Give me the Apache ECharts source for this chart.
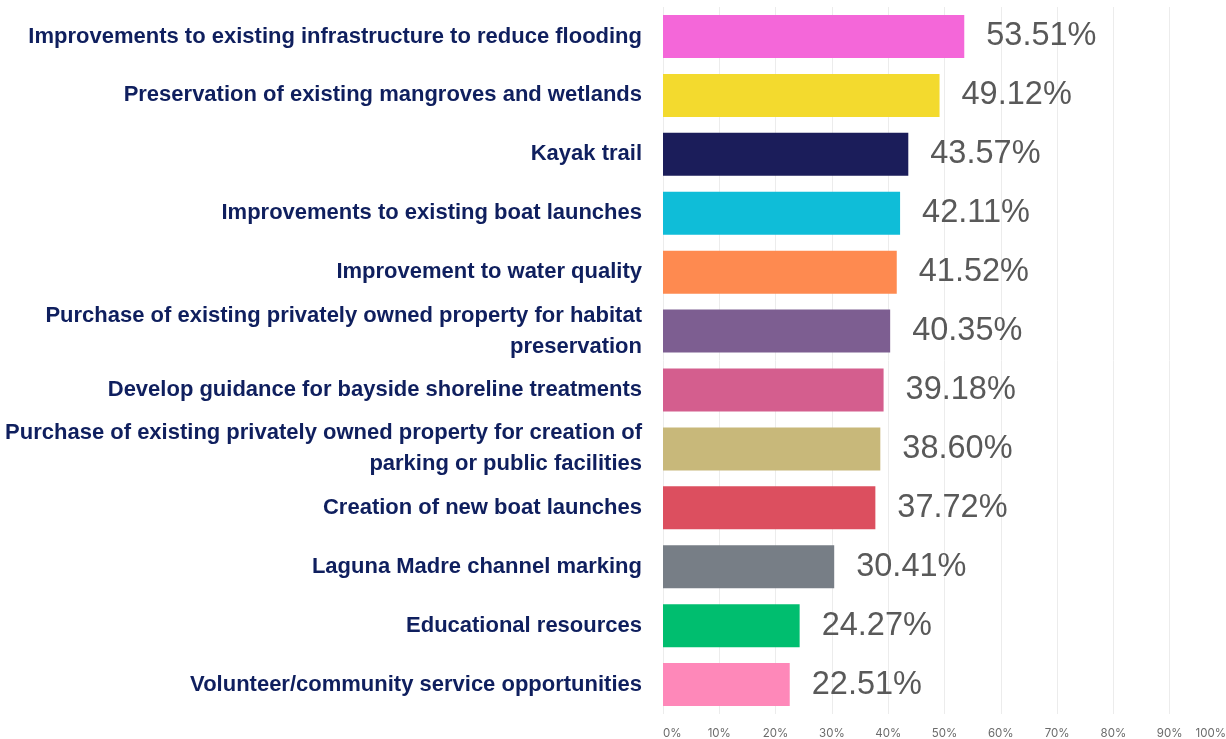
<!DOCTYPE html>
<html>
<head>
<meta charset="utf-8">
<script src="https://cdn.jsdelivr.net/npm/echarts@6/dist/echarts.min.js"></script>
<style>
  html, body { margin: 0; padding: 0; background: #fff; }
  #chart { width: 1226px; height: 739px; }
</style>
</head>
<body>
<div id="chart"></div>
<script>
// categories, top to bottom
const categories = [
  'Improvements to existing infrastructure to reduce flooding',
  'Preservation of existing mangroves and wetlands',
  'Kayak trail',
  'Improvements to existing boat launches',
  'Improvement to water quality',
  'Purchase of existing privately owned property for habitat\npreservation',
  'Develop guidance for bayside shoreline treatments',
  'Purchase of existing privately owned property for creation of\nparking or public facilities',
  'Creation of new boat launches',
  'Laguna Madre channel marking',
  'Educational resources',
  'Volunteer/community service opportunities'
]

// percent of respondents
const percentages = [53.51, 49.12, 43.57, 42.11, 41.52, 40.35, 39.18, 38.60, 37.72, 30.41, 24.27, 22.51]

const barColors = [
  '#f467d9', '#f3da2e', '#1b1d5a', '#0fbdd8', '#fe8a50', '#7d5e91',
  '#d45e8e', '#c8b87a', '#dc4f5f', '#777e86', '#00be6f', '#fe88b9'
]

const chart = echarts.init(document.getElementById('chart'))

const seriesData = percentages.map((v, i) => ({
  value: v,
  itemStyle: { color: barColors[i] }
}))

chart.setOption({
  backgroundColor: '#ffffff',
  animation: false,
  grid: { left: 663, right: 0, top: 7, bottom: 25, containLabel: false, outerBoundsMode: 'none' },
  xAxis: {
    type: 'value',
    min: 0,
    max: 100,
    interval: 10,
    axisLine: { show: false },
    axisTick: { show: false },
    axisLabel: {
      formatter: '{value}%',
      color: '#6b6b6b',
      fontFamily: 'Inter',
      fontSize: 11.5,
      margin: 14,
      alignMinLabel: 'left',
      alignMaxLabel: 'right'
    },
    splitLine: { lineStyle: { color: '#ececec', width: 1 } }
  },
  yAxis: {
    type: 'category',
    inverse: true,
    data: categories,
    axisLine: { show: false },
    axisTick: { show: false },
    axisLabel: {
      color: '#0f1f5e',
      fontFamily: '"Liberation Sans", Arial, sans-serif',
      fontWeight: 'bold',
      fontSize: 22,
      lineHeight: 31,
      margin: 21,
      align: 'right'
    }
  },
  series: [
    {
      type: 'bar',
      data: seriesData,
      barWidth: 43,
      label: {
        show: true,
        position: 'right',
        distance: 22,
        formatter: p => p.value.toFixed(2) + '%',
        color: '#595959',
        fontFamily: '"Liberation Sans", Arial, sans-serif',
        fontSize: 32.5
      }
    }
  ]
})

window.addEventListener('resize', () => chart.resize())
</script>
</body>
</html>
